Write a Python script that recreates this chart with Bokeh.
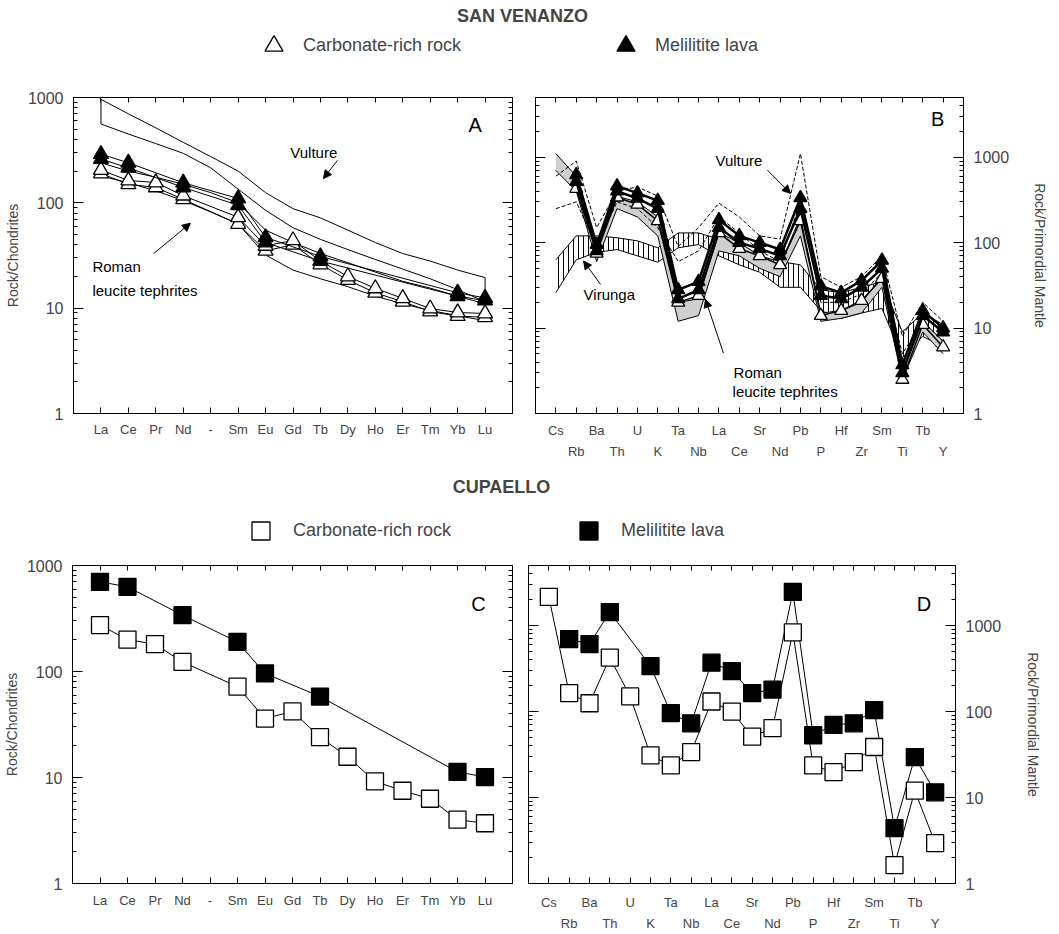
from bokeh.plotting import figure
from bokeh.layouts import column, row
from bokeh.models import (Range1d, LinearAxis, LogAxis, FixedTicker, NumeralTickFormatter,
                          Label, Arrow, NormalHead, Legend, LegendItem)
from bokeh.embed import file_html
from bokeh.resources import INLINE

FONT = "Liberation Sans"

# ---------------- categories ----------------
REE = ["La", "Ce", "Pr", "Nd", "-", "Sm", "Eu", "Gd", "Tb", "Dy", "Ho", "Er", "Tm", "Yb", "Lu"]
SPIDER = ["Cs", "Rb", "Ba", "Th", "U", "K", "Ta", "Nb", "La", "Ce", "Sr", "Nd",
          "Pb", "P", "Hf", "Zr", "Sm", "Ti", "Tb", "Y"]

# ---------------- A: San Venanzo, chondrite-normalised REE ----------------
sv_ree_melilitite_1 = [290, 240, None, 155, None, 110, 47, None, 31, None, None, None, None, 14, 12.5]
sv_ree_melilitite_2 = [260, 215, None, 140, None, 95, 42, None, 28, None, None, None, None, 13, 11.8]
sv_ree_carbonate_1 = [205, 163, 156, 117, None, 73, 39, 44, 28, 20, 15.4, 12.4, 9.9, 9.1, 8.9]
sv_ree_carbonate_2 = [190, 150, 140, 108, None, 63, 35, 40, 26, 18.5, 14, 11.5, 9.3, 8.4, 8.2]
vulture_ree_upper = [960, 700, 515, 375, 275, 200, 125, 88, 72, 55, 42, 33, 28, 23, 19.5]
vulture_ree_lower = [560, 450, 365, 295, 215, 135, 85, 58, 45, 36, 29, 23.5, 19, 15, 11.5]
roman_ree_upper = [240, 200, 175, 150, 125, 100, 55, 42, 33, 27, 22, 18, 15.5, 13, 11]
roman_ree_lower = [180, 155, 130, 105, 82, 63, 32, 23, 19, 16, 13, 11, 9.5, 8.5, 7.6]

# ---------------- B: San Venanzo, primordial-mantle-normalised ----------------
sv_sp_melilitite_1 = [None, 620, 95, 460, 380, 310, 28, 35, 185, 120, 100, 83, 335, 31, 26, 36, 62, 3.7, 16, 10]
sv_sp_melilitite_2 = [None, 520, 80, 400, 330, 250, 22, 28, 150, 100, 85, 70, 250, 24, 22, 30, 50, 3.0, 14, 9]
sv_sp_carbonate = [None, 430, 75, 340, 280, 180, 20, 24, 130, 85, 70, 55, 180, 14, 16, 21, 38, 2.5, 11, 6]
virunga_upper = [63, 120, 120, 114, 105, 87, 130, 130, 110, 85, 70, 60, 55, 28, 26, 30, 35, 9, 15, 11]
virunga_lower = [26, 63, 77, 83, 70, 59, 87, 95, 70, 55, 45, 30, 30, 16, 13, 15, 17, 4.5, 8, 6]
roman_sp_upper = [1100, 600, 90, 350, 300, 200, 20, 22, 130, 100, 70, 55, 200, 15, 16, 20, 40, 3.0, 12, 7]
roman_sp_lower = [700, 400, 60, 250, 200, 120, 12, 14, 80, 70, 50, 40, 120, 12, 13, 15, 30, 2.5, 9, 5]
vulture_sp_upper = [600, 900, 150, 400, 450, 350, 90, 150, 290, 200, 120, 110, 1100, 40, 30, 40, 70, 8, 20, 12]
vulture_sp_lower = [250, 300, 90, 300, 250, 150, 60, 80, 200, 130, 80, 60, 300, 20, 20, 25, 45, 5, 12, 7]

# ---------------- C: Cupaello, chondrite-normalised REE ----------------
cu_ree_melilitite = [702, 629, None, 340, None, 190, 96, None, 58, None, None, None, None, 11.3, 10.1]
cu_ree_carbonate = [274, 200, 181, 123, None, 72, 36, 42, 24, 15.7, 9.2, 7.5, 6.3, 4.0, 3.7]

# ---------------- D: Cupaello, primordial-mantle-normalised ----------------
cu_sp_melilitite = [None, 697, 609, 1435, None, 338, 96, 73, 370, 295, 164, 180, 2466,
                    53, 70, 73, 104, 4.4, 29.5, 11.5]
cu_sp_carbonate = [2155, 164, 125, 424, 150, 31, 23.6, 33.8, 131, 100, 51, 64, 835,
                   23.6, 19.7, 25.8, 38.7, 1.64, 12, 2.95]

MAJOR = [1, 10, 100, 1000]
MINOR = [m * 10 ** e for e in range(0, 4) for m in range(2, 10)]


def pts(vals):
    xs = [i + 1 for i, v in enumerate(vals) if v is not None]
    ys = [v for v in vals if v is not None]
    return xs, ys


def hide_labels(ax):
    ax.major_label_text_font_size = "1px"
    ax.major_label_text_color = None
    ax.major_label_standoff = 0


def label_axis(ticks, mapping, standoff):
    return LinearAxis(ticker=FixedTicker(ticks=ticks, minor_ticks=[]),
                      major_label_overrides=mapping,
                      major_tick_in=0, major_tick_out=0, minor_tick_in=0, minor_tick_out=0,
                      axis_line_color=None, major_label_standoff=standoff,
                      major_label_text_font=FONT, major_label_text_font_size="13px")


def panel(cats, ytop, width, height, borders, side, ylabel, two_rows, label_standoff,
          row2_standoff=3, ylabel_standoff=4):
    n = len(cats)
    pos = list(range(1, n + 1))
    p = figure(width=width, height=height, x_range=Range1d(0, n + 1), y_range=Range1d(1, ytop),
               y_axis_type="log", y_axis_location=side, output_backend="svg",
               toolbar_location=None)
    p.min_border_left, p.min_border_right, p.min_border_top, p.min_border_bottom = borders
    p.grid.visible = False
    p.outline_line_color = "black"
    p.background_fill_color = "white"
    p.border_fill_color = "white"

    bx = p.xaxis[0]
    bx.ticker = FixedTicker(ticks=pos, minor_ticks=[])
    bx.major_tick_in = 6
    bx.major_tick_out = 0
    bx.minor_tick_in = 0
    bx.minor_tick_out = 0
    bx.axis_line_color = "black"
    if two_rows:
        hide_labels(bx)
        odd = [i for i in pos if i % 2 == 1]
        even = [i for i in pos if i % 2 == 0]
        p.add_layout(label_axis(odd, {i: cats[i - 1] for i in odd}, label_standoff), "below")
        p.add_layout(label_axis(even, {i: cats[i - 1] for i in even}, row2_standoff), "below")
    else:
        bx.major_label_overrides = {i: c for i, c in zip(pos, cats)}
        bx.major_label_standoff = label_standoff
        bx.major_label_text_font = FONT
        bx.major_label_text_font_size = "13px"

    top = LinearAxis(ticker=FixedTicker(ticks=pos, minor_ticks=[]),
                     major_tick_in=5, major_tick_out=0, minor_tick_in=0, minor_tick_out=0)
    hide_labels(top)
    p.add_layout(top, "above")

    ya = p.yaxis[0]
    ya.ticker = FixedTicker(ticks=MAJOR, minor_ticks=MINOR)
    ya.formatter = NumeralTickFormatter(format="0")
    ya.major_tick_in = 10
    ya.major_tick_out = 0
    ya.minor_tick_in = 4
    ya.minor_tick_out = 0
    ya.major_label_standoff = 10
    ya.major_label_text_font = FONT
    ya.major_label_text_font_size = "16px"
    ya.axis_label = ylabel
    ya.axis_label_text_font = FONT
    ya.axis_label_text_font_size = "14px"
    ya.axis_label_text_font_style = "normal"
    ya.axis_label_standoff = ylabel_standoff

    other = LogAxis(ticker=FixedTicker(ticks=MAJOR, minor_ticks=MINOR),
                    major_tick_in=10, major_tick_out=0, minor_tick_in=4, minor_tick_out=0)
    hide_labels(other)
    p.add_layout(other, "left" if side == "right" else "right")
    return p


def sample(p, vals, marker, filled, size, lw=1.0):
    xs, ys = pts(vals)
    p.line(xs, ys, line_color="black", line_width=lw)
    return p.scatter(xs, ys, marker=marker, size=size, line_color="black", line_width=1.3,
                     fill_color="black" if filled else "white")


def label(p, x, y, text, size="15px"):
    p.add_layout(Label(x=x, y=y, text=text, text_font=FONT, text_font_size=size,
                       text_baseline="middle", text_align="left", text_color="black"))


def arrow(p, xs, ys, xe, ye):
    p.add_layout(Arrow(end=NormalHead(size=8, fill_color="black", line_color="black"),
                       x_start=xs, y_start=ys, x_end=xe, y_end=ye,
                       line_color="black", line_width=1))


def header(title, title_x, title_y, height, items, loc, standoff, spacing):
    h = figure(width=1059, height=height, x_range=Range1d(0, 1), y_range=Range1d(0, 1),
               x_axis_type=None, y_axis_type=None, output_backend="svg", toolbar_location=None)
    h.min_border_left = h.min_border_right = h.min_border_top = h.min_border_bottom = 0
    h.outline_line_color = None
    h.grid.visible = False
    h.add_layout(Label(x=title_x, y=title_y, x_units="screen", y_units="screen", text=title,
                       text_font=FONT, text_font_size="18px", text_font_style="bold",
                       text_align="center", text_baseline="middle"))
    legend_items = []
    for name, vals, marker, filled in items:
        xs, ys = pts(vals)
        # hidden renderer: only its legend key is shown in this header strip
        r = h.scatter(x=xs, y=ys, marker=marker, size=18, line_color="black", line_width=1.3,
                      fill_color="black" if filled else "white", visible=False)
        legend_items.append(LegendItem(label=name, renderers=[r]))
    lg = Legend(items=legend_items, orientation="horizontal", location=loc,
                glyph_width=45, glyph_height=45, label_standoff=standoff, spacing=spacing,
                padding=0, margin=0, border_line_color=None, background_fill_alpha=0,
                label_text_font=FONT, label_text_font_size="18px")
    h.add_layout(lg)
    return h


# ---------------- Header 1 ----------------
h1 = header("SAN VENANZO", 522, 70, 85,
            [("Carbonate-rich rock", sv_ree_carbonate_1, "triangle", False),
             ("Melilitite lava", sv_ree_melilitite_1, "triangle", True)],
            (251, 17), 7, 142)

# ---------------- Panel A ----------------
pA = panel(REE, 1000, 520, 378, (73, 8, 12, 50), "left", "Rock/Chondrites", False, 8)
posR = list(range(1, len(REE) + 1))
pA.patch(posR + posR[::-1], vulture_ree_upper + vulture_ree_lower[::-1],
         fill_color=None, line_color="black", line_width=1)
pA.line(posR, roman_ree_upper, line_color="black", line_width=1)
pA.line(posR, roman_ree_lower, line_color="black", line_width=1)
sample(pA, sv_ree_carbonate_2, "triangle", False, 15)
sample(pA, sv_ree_carbonate_1, "triangle", False, 15)
sample(pA, sv_ree_melilitite_2, "triangle", True, 15)
sample(pA, sv_ree_melilitite_1, "triangle", True, 15)
label(pA, 7.9, 300, "Vulture")
arrow(pA, 9.62, 253, 9.11, 170)
label(pA, 0.69, 25, "Roman")
label(pA, 0.69, 14.7, "leucite tephrites")
arrow(pA, 2.92, 33, 4.26, 64)
label(pA, 14.4, 543, "A", "20px")

# ---------------- Panel B ----------------
pB = panel(SPIDER, 5000, 539, 378, (15, 96, 12, 50), "right", "Rock/Primordial Mantle", True, 9,
           row2_standoff=3, ylabel_standoff=20)
posS = list(range(1, len(SPIDER) + 1))
pB.varea(x=posS, y1=virunga_lower, y2=virunga_upper, fill_color="white",
         hatch_pattern="|", hatch_scale=5, hatch_weight=1, hatch_color="black")
pB.line(posS, virunga_upper, line_color="black", line_width=1)
pB.line(posS, virunga_lower, line_color="black", line_width=1)
pB.varea(x=posS, y1=roman_sp_lower, y2=roman_sp_upper, fill_color="#cfcfcf")
pB.line(posS, roman_sp_upper, line_color="black", line_width=1)
pB.line(posS, roman_sp_lower, line_color="black", line_width=1)
pB.line(posS, vulture_sp_upper, line_color="black", line_width=1, line_dash="4 2")
pB.line(posS, vulture_sp_lower, line_color="black", line_width=1, line_dash="4 2")
sample(pB, sv_sp_carbonate, "triangle", False, 13, 1.5)
sample(pB, sv_sp_melilitite_2, "triangle", True, 13, 2.5)
sample(pB, sv_sp_melilitite_1, "triangle", True, 13, 2.5)
label(pB, 8.83, 927, "Vulture")
arrow(pB, 11.38, 706, 12.51, 377)
label(pB, 2.36, 25, "Virunga")
arrow(pB, 3.19, 32.5, 2.36, 61)
label(pB, 9.72, 3.05, "Roman")
label(pB, 9.67, 1.82, "leucite tephrites")
arrow(pB, 9.22, 5.1, 8.34, 21.7)
label(pB, 19.4, 2800, "B", "20px")

# ---------------- Header 2 ----------------
h2 = header("CUPAELLO", 501, 69, 92,
            [("Carbonate-rich rock", cu_ree_carbonate, "square", False),
             ("Melilitite lava", cu_ree_melilitite, "square", True)],
            (238, 2), 10, 115)

# ---------------- Panel C ----------------
pC = panel(REE, 1000, 520, 379, (72, 8, 10, 51), "left", "Rock/Chondrites", False, 9)
sample(pC, cu_ree_melilitite, "square", True, 17)
sample(pC, cu_ree_carbonate, "square", False, 17)
label(pC, 14.5, 437, "C", "20px")

# ---------------- Panel D ----------------
pD = panel(SPIDER, 5000, 539, 379, (8, 104, 10, 51), "right", "Rock/Primordial Mantle", True, 11,
           row2_standoff=3, ylabel_standoff=21)
sample(pD, cu_sp_melilitite, "square", True, 17)
sample(pD, cu_sp_carbonate, "square", False, 17)
label(pD, 19.1, 1800, "D", "20px")

layout = column(h1, row(pA, pB), h2, row(pC, pD))
open("out.html", "w").write(file_html(layout, INLINE))
